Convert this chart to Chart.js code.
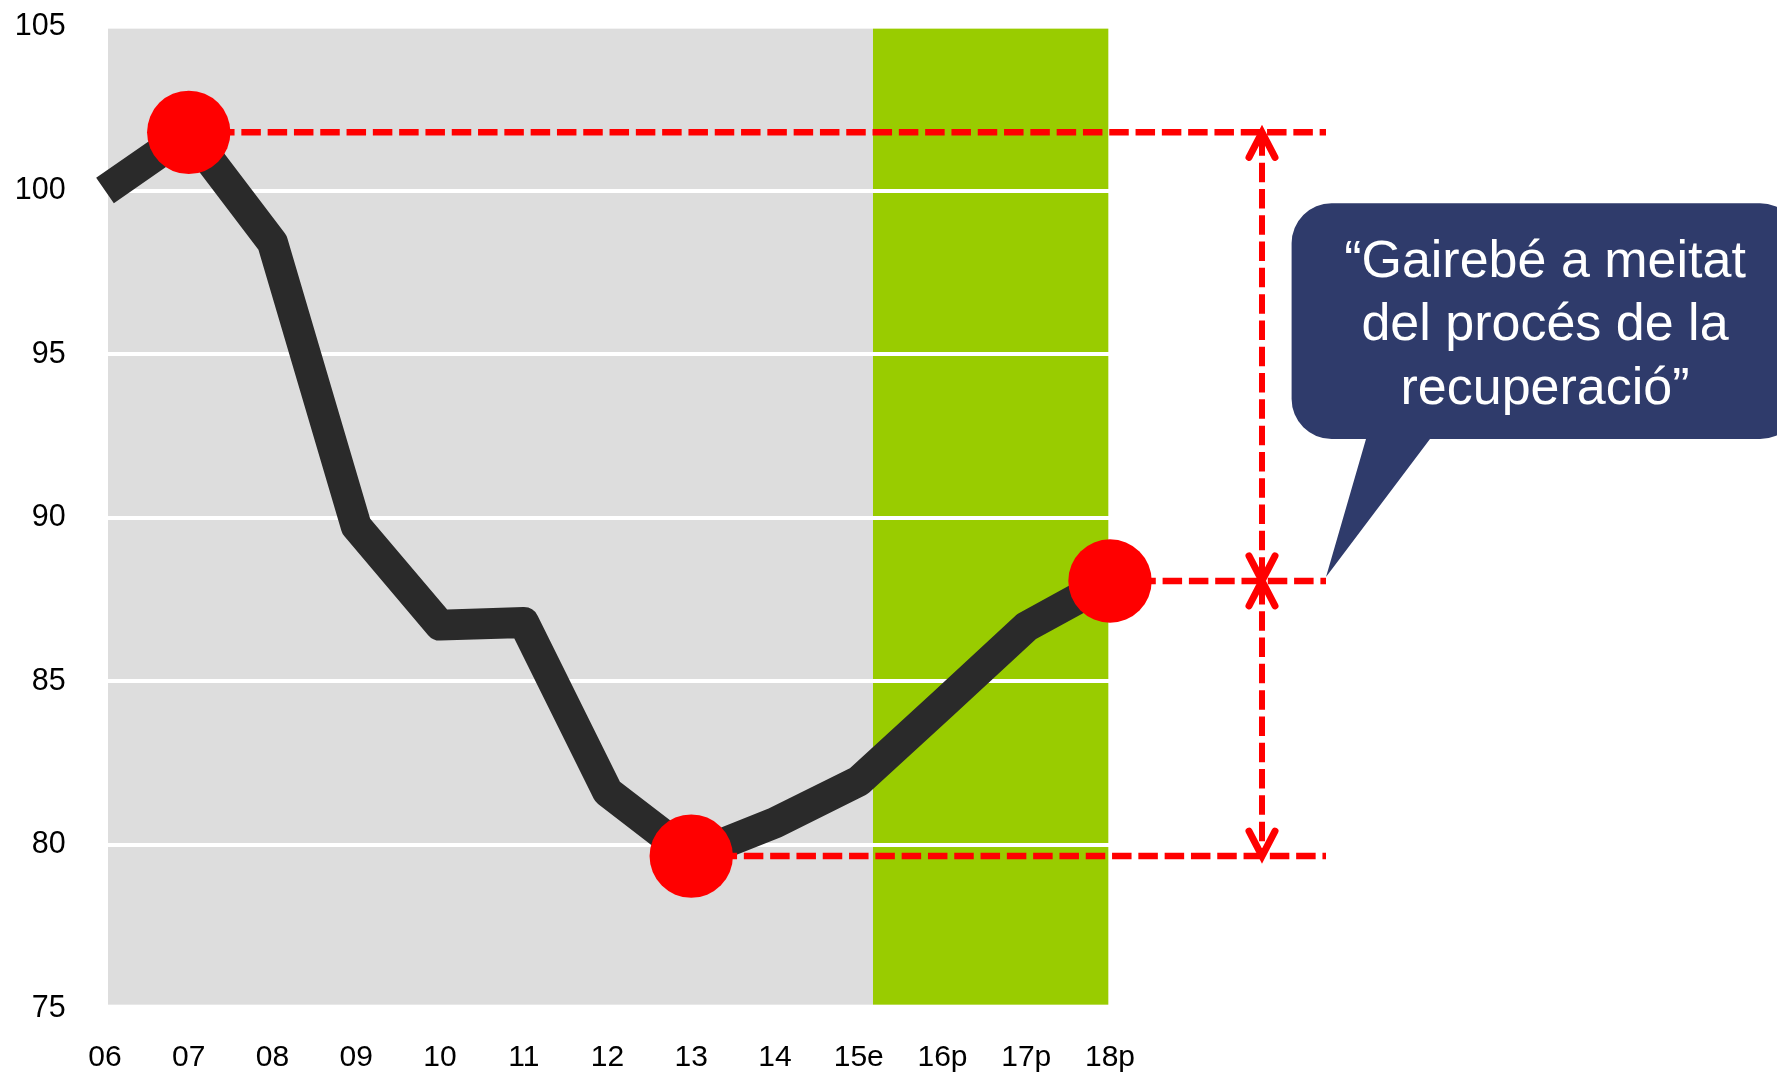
<!DOCTYPE html>
<html><head><meta charset="utf-8">
<script src="https://cdn.jsdelivr.net/npm/chart.js@4.4.1/dist/chart.umd.min.js"></script>
<style>html,body{margin:0;padding:0;background:#fff;overflow:hidden}canvas{display:block}</style>
</head><body>
<canvas id="c" width="1777" height="1074"></canvas>
<script>
// ---- data ----
const categories = ['06','07','08','09','10','11','12','13','14','15e','16p','17p','18p'];
const indexValues = [100.0, 101.78, 98.41, 89.74, 86.72, 86.8, 81.63, 79.66, 80.68, 81.95, 84.3, 86.67, 88.07];
const highlightIdx = [1, 7, 12];            // peak (07), trough (13), latest (18p)
const highlightValues = [101.78, 79.66, 88.07];
const yTicks = [75, 80, 85, 90, 95, 100, 105];
const calloutLines = ['\u201CGairebé a meitat', 'del procés de la', 'recuperació\u201D'];

const FONT = '"Liberation Sans", Arial, Helvetica, sans-serif';
const circleData = categories.map((c, i) => {
  const k = highlightIdx.indexOf(i);
  return k >= 0 ? highlightValues[k] : null;
});

const bgPlugin = {
  id: 'bgBands',
  beforeDraw(chart) {
    const {ctx, scales: {x, y}} = chart;
    const top = y.getPixelForValue(104.95), bot = y.getPixelForValue(75.12);
    const gx0 = x.getPixelForValue(0.036), gx1 = x.getPixelForValue(9.17), gx2 = x.getPixelForValue(11.98);
    ctx.save();
    ctx.fillStyle = '#DDDDDD'; ctx.fillRect(gx0, top, gx1 - gx0, bot - top);
    ctx.fillStyle = '#99CC00'; ctx.fillRect(gx1, top, gx2 - gx1, bot - top);
    ctx.restore();
  }
};

function arrowHead(ctx, x, y, dir) {
  ctx.beginPath();
  ctx.moveTo(x - 13, y - dir * 25);
  ctx.lineTo(x, y);
  ctx.lineTo(x + 13, y - dir * 25);
  ctx.stroke();
}

const annotPlugin = {
  id: 'annot',
  beforeDatasetDraw(chart, args) {
    if (args.index !== 1) return;
    const {ctx, scales: {x, y}, chartArea: a} = chart;
    const endX = a.right + 216;
    ctx.save();
    ctx.strokeStyle = '#FF0000'; ctx.lineWidth = 6.5; ctx.setLineDash([19.5, 6.8]);
    highlightIdx.forEach((idx, k) => {
      const py = y.getPixelForValue(highlightValues[k]);
      ctx.beginPath(); ctx.moveTo(x.getPixelForValue(idx), py); ctx.lineTo(endX, py); ctx.stroke();
    });
    ctx.restore();
  },
  afterDatasetsDraw(chart) {
    const {ctx, scales: {y}, chartArea: a} = chart;
    const ax = a.right + 152;
    const yTop = y.getPixelForValue(highlightValues[0]);
    const yBot = y.getPixelForValue(highlightValues[1]);
    const yMid = y.getPixelForValue(highlightValues[2]);
    ctx.save();
    ctx.strokeStyle = '#FF0000';
    ctx.lineWidth = 6; ctx.setLineDash([19.5, 6.8]);
    ctx.beginPath(); ctx.moveTo(ax, yTop + 4); ctx.lineTo(ax, yMid - 4); ctx.stroke();
    ctx.beginPath(); ctx.moveTo(ax, yMid + 4); ctx.lineTo(ax, yBot - 4); ctx.stroke();
    ctx.setLineDash([]); ctx.lineWidth = 7; ctx.lineCap = 'round'; ctx.lineJoin = 'miter';
    arrowHead(ctx, ax, yTop, -1);
    arrowHead(ctx, ax, yMid, 1);
    arrowHead(ctx, ax, yMid, -1);
    arrowHead(ctx, ax, yBot, 1);
    ctx.restore();
  },
  afterDraw(chart) {
    const {ctx} = chart;
    const L = 1291.6, T = 203.3, R = 1800, B = 439, r = 40;
    ctx.save();
    ctx.fillStyle = '#2F3B6B';
    ctx.beginPath();
    ctx.moveTo(L + r, T);
    ctx.lineTo(R - r, T); ctx.arcTo(R, T, R, T + r, r);
    ctx.lineTo(R, B - r); ctx.arcTo(R, B, R - r, B, r);
    ctx.lineTo(1430, B); ctx.lineTo(1326, 577); ctx.lineTo(1366, B);
    ctx.lineTo(L + r, B); ctx.arcTo(L, B, L, B - r, r);
    ctx.lineTo(L, T + r); ctx.arcTo(L, T, L + r, T, r);
    ctx.closePath(); ctx.fill();
    ctx.fillStyle = '#FFFFFF';
    ctx.font = '52px ' + FONT;
    ctx.textAlign = 'center'; ctx.textBaseline = 'alphabetic';
    calloutLines.forEach((t, i) => ctx.fillText(t, 1545, 276.7 + i * 63.7));
    ctx.restore();
  }
};

new Chart(document.getElementById('c'), {
  type: 'line',
  data: {
    labels: categories,
    datasets: [
      {
        data: indexValues, order: 2,
        borderColor: '#2A2A2A', borderWidth: 31, borderJoinStyle: 'round', borderCapStyle: 'butt',
        pointRadius: 0, pointHoverRadius: 0, tension: 0, fill: false, clip: false
      },
      {
        data: circleData, order: 1, showLine: false, spanGaps: false,
        pointRadius: 41.7, pointHoverRadius: 41.7, pointBackgroundColor: '#FF0000',
        pointBorderWidth: 0, pointBorderColor: '#FF0000', clip: false
      }
    ]
  },
  options: {
    responsive: false, animation: false, devicePixelRatio: 1, events: [],
    layout: { autoPadding: false, padding: { left: 0, right: 667, top: 27, bottom: 0 } },
    plugins: { legend: { display: false }, tooltip: { enabled: false } },
    scales: {
      x: {
        type: 'category', offset: false,
        grid: { display: false, drawTicks: false }, border: { display: false },
        ticks: { color: '#000', font: { family: FONT, size: 30 }, padding: 31, maxRotation: 0, autoSkip: false },
        afterFit(s) { s.height = 65.4; s.paddingLeft = 0; s.paddingRight = 0; }
      },
      y: {
        min: yTicks[0], max: yTicks[yTicks.length - 1],
        afterBuildTicks(s) { s.ticks = yTicks.map(v => ({ value: v })); },
        grid: {
          drawTicks: false, lineWidth: 4,
          color: c => (c.tick && (c.tick.value === yTicks[0] || c.tick.value === yTicks[yTicks.length - 1])) ? 'rgba(0,0,0,0)' : '#FFFFFF'
        },
        border: { display: false },
        ticks: { color: '#000', font: { family: FONT, size: 30.5 }, padding: 39.3 },
        afterFit(s) { s.width = 105; s.paddingTop = 0; s.paddingBottom = 0; }
      }
    }
  },
  plugins: [bgPlugin, annotPlugin]
});
</script>
</body></html>
